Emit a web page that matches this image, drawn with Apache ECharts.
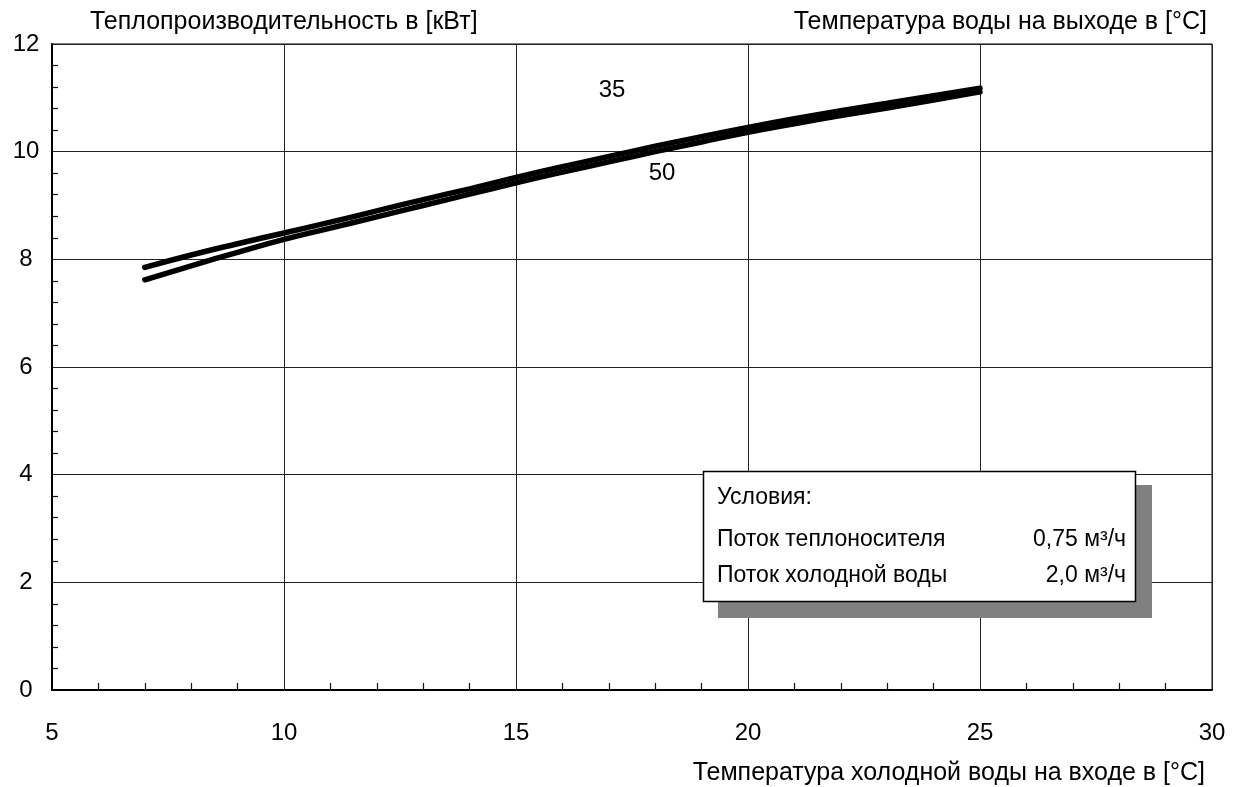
<!DOCTYPE html>
<html>
<head>
<meta charset="utf-8">
<script src="https://cdn.jsdelivr.net/npm/echarts@6/dist/echarts.min.js"></script>
<style>
html,body{margin:0;padding:0;background:#fff;}
#chart{width:1236px;height:787px;}
</style>
</head>
<body>
<div id="chart"></div>
<script>
// Inlet cold-water temperature [°C]
const inletTemps = [7, 8, 9, 10, 11, 12, 13, 14, 15, 16, 17, 18, 19, 20, 21, 22, 23, 24, 25];
// Heat output [kW] for outlet temperature 35 °C
const output35 = [7.85, 8.08, 8.29, 8.49, 8.69, 8.90, 9.11, 9.31, 9.52, 9.72, 9.91, 10.10, 10.28, 10.45, 10.61, 10.76, 10.90, 11.04, 11.18];
// Heat output [kW] for outlet temperature 50 °C
const output50 = [7.62, 7.88, 8.13, 8.37, 8.58, 8.79, 9.00, 9.21, 9.42, 9.62, 9.81, 10.00, 10.18, 10.36, 10.52, 10.67, 10.81, 10.96, 11.11];
const seriesNames = ['35', '50'];
const xTicks = [5, 10, 15, 20, 25, 30];
const yTicks = [0, 2, 4, 6, 8, 10, 12];
const yTitle = 'Теплопроизводительность в [кВт]';
const rightTitle = 'Температура воды на выходе в [°C]';
const xTitle = 'Температура холодной воды на входе в [°C]';
const condTitle = 'Условия:';
const condRows = [['Поток теплоносителя', '0,75 м³/ч'], ['Поток холодной воды', '2,0 м³/ч']];

const FONT = '"Liberation Sans", Arial, sans-serif';
const chart = echarts.init(document.getElementById('chart'));

const pair = (xs, ys) => xs.map((x, i) => [x, ys[i]]);
const txt = (text, x, y, size, align, z) => ({
  type: 'text', z: z || 12,
  style: { text: text, x: x, y: y, font: size + 'px ' + FONT, fill: '#000', textAlign: align, textVerticalAlign: 'middle' }
});

chart.setOption({
  backgroundColor: '#fff',
  animation: false,
  grid: { left: 52, right: 24, top: 44, bottom: 97, show: true, borderColor: '#000', borderWidth: 1, backgroundColor: 'transparent' },
  xAxis: {
    type: 'value', min: xTicks[0], max: xTicks[xTicks.length - 1], interval: 5,
    axisLine: { show: true, lineStyle: { color: '#000', width: 2 } },
    axisTick: { show: false, inside: true },
    minorTick: { show: true, splitNumber: 5, length: 7, lineStyle: { color: '#111', width: 1.2 } },
    splitLine: { show: true, lineStyle: { color: '#222', width: 1 } },
    axisLabel: { color: '#000', fontSize: 24, fontFamily: FONT, margin: 31 }
  },
  yAxis: {
    type: 'value', min: yTicks[0], max: yTicks[yTicks.length - 1], interval: 2,
    axisLine: { show: true, lineStyle: { color: '#000', width: 2 } },
    axisTick: { show: false, inside: true },
    minorTick: { show: true, splitNumber: 5, length: 6, lineStyle: { color: '#111', width: 1.2 } },
    splitLine: { show: true, lineStyle: { color: '#222', width: 1 } },
    axisLabel: { color: '#000', fontSize: 24, fontFamily: FONT, margin: 26, align: 'center' }
  },
  series: [
    { name: seriesNames[0], type: 'line', data: pair(inletTemps, output35), smooth: true, showSymbol: false,
      lineStyle: { color: '#000', width: 5.5, cap: 'round' }, z: 3 },
    { name: seriesNames[1], type: 'line', data: pair(inletTemps, output50), smooth: true, showSymbol: false,
      lineStyle: { color: '#000', width: 5.5, cap: 'round' }, z: 3 }
  ],
  graphic: [
    txt(yTitle, 90, 22, 25, 'left'),
    txt(rightTitle, 1207, 22, 25, 'right'),
    txt(xTitle, 1205, 773, 25, 'right'),
    txt(seriesNames[0], 612, 90, 24, 'center'),
    txt(seriesNames[1], 662, 173, 24, 'center'),
    { type: 'rect', shape: { x: 718, y: 485, width: 434, height: 133 }, style: { fill: '#808080' }, z: 10 },
    { type: 'rect', shape: { x: 703.5, y: 471.5, width: 432, height: 130 }, style: { fill: '#fff', stroke: '#000', lineWidth: 1.5 }, z: 11 },
    txt(condTitle, 717, 498, 23, 'left'),
    txt(condRows[0][0], 717, 540, 23, 'left'),
    txt(condRows[0][1], 1126, 540, 23, 'right'),
    txt(condRows[1][0], 717, 576, 23, 'left'),
    txt(condRows[1][1], 1126, 576, 23, 'right')
  ]
});
</script>
</body>
</html>
